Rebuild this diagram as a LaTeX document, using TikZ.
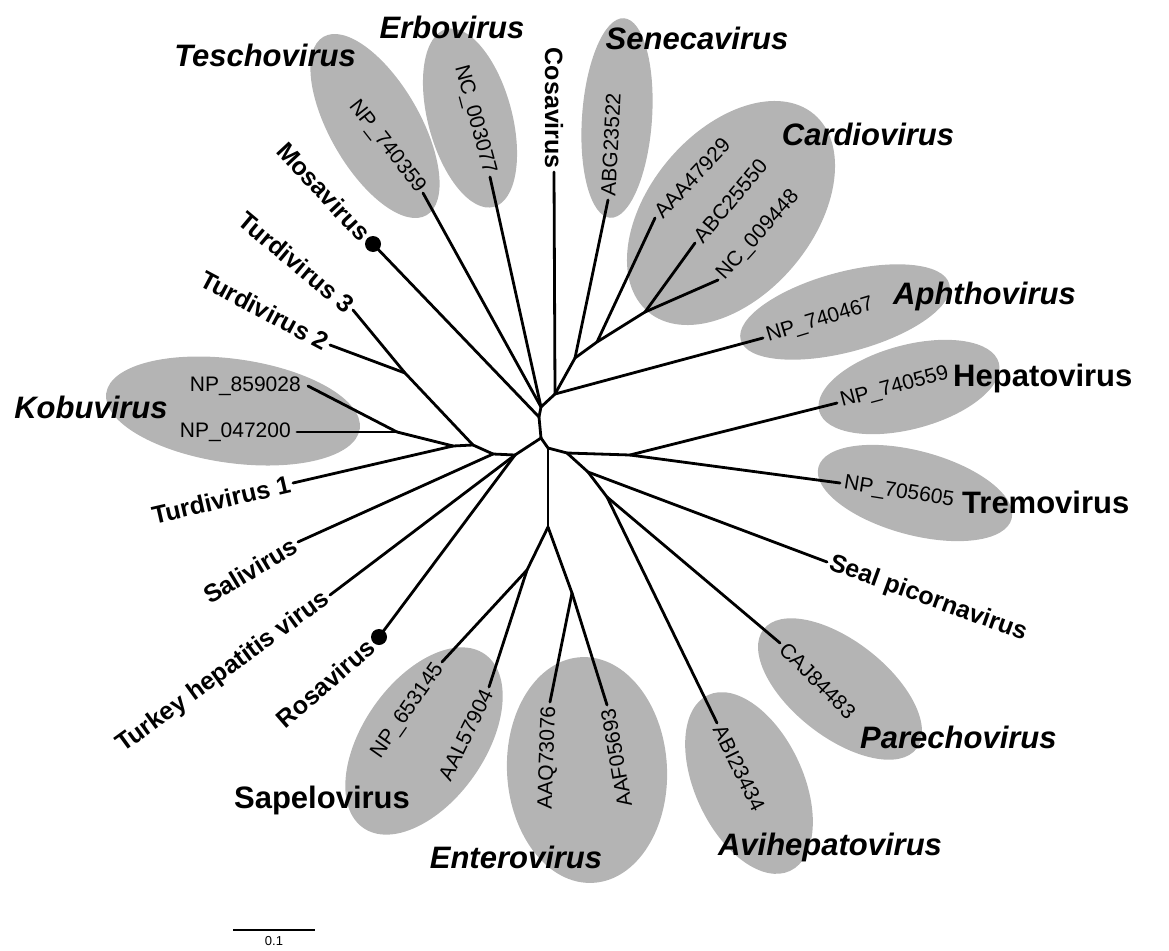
\documentclass[tikz,border=0pt]{standalone}
\usepackage{fontspec}
\setmainfont{Liberation Sans}
\definecolor{ellgray}{RGB}{180,180,180}
\tikzset{
  br/.style={line width=2.8pt, line cap=round, line join=round},
  ell/.style={fill=ellgray},
  acc/.style={font=\fontsize{21}{25}\selectfont, inner sep=4pt},
  leaf/.style={font=\fontsize{25}{30}\selectfont\bfseries, inner sep=3pt},
  genus/.style={font=\fontsize{31}{37}\selectfont\bfseries\itshape, inner sep=0pt},
  genusup/.style={font=\fontsize{31}{37}\selectfont\bfseries, inner sep=0pt},
  dot/.style={circle, fill=black, inner sep=0pt, minimum size=16pt}
}
\begin{document}
\begin{tikzpicture}[x=1pt,y=-1pt]
\useasboundingbox (0,0) rectangle (1169,950);
% ellipses
\fill[ell, rotate around={-60:(375,126)}] (375,126) ellipse [x radius=103, y radius=45];
\fill[ell, rotate around={-75:(470,118)}] (470,118) ellipse [x radius=92, y radius=42];
\fill[ell, rotate around={86:(617,118)}] (617,118) ellipse [x radius=100, y radius=35];
\fill[ell, rotate around={50:(731,213)}] (731,213) ellipse [x radius=129, y radius=82];
\fill[ell, rotate around={15:(845,312)}] (845,312) ellipse [x radius=108, y radius=40];
\fill[ell, rotate around={15:(909,387)}] (909,387) ellipse [x radius=93, y radius=42];
\fill[ell, rotate around={-15:(915,493)}] (915,493) ellipse [x radius=100, y radius=42];
\fill[ell, rotate around={-38:(840,689)}] (840,689) ellipse [x radius=97, y radius=48];
\fill[ell, rotate around={-65:(749,783)}] (749,783) ellipse [x radius=97, y radius=54];
\fill[ell, rotate around={93:(587,770)}] (587,770) ellipse [x radius=113, y radius=80];
\fill[ell, rotate around={55:(424,741)}] (424,741) ellipse [x radius=106, y radius=61];
\fill[ell, rotate around={-8:(233,411)}] (233,411) ellipse [x radius=128, y radius=52];
% internal nodes
\coordinate (A1) at (541,407);
\coordinate (A2) at (539,417);
\coordinate (B) at (555,394);
\coordinate (S1) at (575,358);
\coordinate (S2) at (597,342);
\coordinate (S3) at (645,312);
\coordinate (C) at (541,438);
\coordinate (D) at (515,455);
\coordinate (D2) at (493,454);
\coordinate (K2) at (473,445);
\coordinate (T) at (405,373);
\coordinate (K) at (453,446);
\coordinate (Kb) at (397,432);
\coordinate (F) at (548,448);
\coordinate (F2) at (567,453);
\coordinate (G) at (630,455);
\coordinate (H) at (588,472);
\coordinate (I) at (607,497);
\coordinate (E) at (548,527);
\coordinate (Sp) at (527,570);
\coordinate (En) at (572,593);
% tips
\coordinate (tesch) at (423,193);
\coordinate (erbo) at (490,177);
\coordinate (mosa) at (373,244);
\coordinate (cosa) at (554,172);
\coordinate (aphtho) at (763,338);
\coordinate (seneca) at (608,200);
\coordinate (aaa) at (655,218);
\coordinate (abc) at (695,243);
\coordinate (nc9) at (718,280);
\coordinate (td3) at (353,310);
\coordinate (td2) at (330,345);
\coordinate (np859) at (308,386);
\coordinate (np047) at (297,432);
\coordinate (td1) at (293,483);
\coordinate (sali) at (298,542);
\coordinate (turkey) at (330,595);
\coordinate (rosa) at (379,637);
\coordinate (np653) at (442,662);
\coordinate (aal) at (489,687);
\coordinate (aaq) at (550,702);
\coordinate (aaf) at (607,705);
\coordinate (abi) at (717,723);
\coordinate (caj) at (780,643);
\coordinate (seal) at (827,562);
\coordinate (np705) at (840,483);
\coordinate (np559) at (837,403);
% branches
\draw[br] (A2) -- (A1) -- (B);
\draw[br] (A1) -- (tesch);
\draw[br] (A1) -- (erbo);
\draw[br] (A2) -- (mosa);
\draw[br] (A2) -- (C);
\draw[br] (B) -- (cosa);
\draw[br] (B) -- (aphtho);
\draw[br] (B) -- (S1) -- (S2) -- (S3);
\draw[br] (S1) -- (seneca);
\draw[br] (S2) -- (aaa);
\draw[br] (S3) -- (abc);
\draw[br] (S3) -- (nc9);
\draw[br] (C) -- (D);
\draw[br] (C) -- (F);
\draw[br] (D) -- (turkey);
\draw[br] (D) -- (rosa);
\draw[br] (D) -- (D2);
\draw[br] (D2) -- (sali);
\draw[br] (D2) -- (K2);
\draw[br] (K2) -- (T);
\draw[br] (K2) -- (K);
\draw[br] (T) -- (td3);
\draw[br] (T) -- (td2);
\draw[br] (K) -- (td1);
\draw[br] (K) -- (Kb);
\draw[br] (Kb) -- (np859);
\draw[br] (Kb) -- (np047);
\draw[br] (F) -- (E);
\draw[br] (F) -- (F2);
\draw[br] (F2) -- (G);
\draw[br] (F2) -- (H);
\draw[br] (G) -- (np559);
\draw[br] (G) -- (np705);
\draw[br] (H) -- (seal);
\draw[br] (H) -- (I);
\draw[br] (I) -- (caj);
\draw[br] (I) -- (abi);
\draw[br] (E) -- (Sp);
\draw[br] (E) -- (En);
\draw[br] (Sp) -- (np653);
\draw[br] (Sp) -- (aal);
\draw[br] (En) -- (aaq);
\draw[br] (En) -- (aaf);
% dots
\node[dot] (mosadot) at (mosa) {};
\node[dot] (rosadot) at (rosa) {};
% leaf labels
\node[acc, anchor=east, rotate=-52, inner sep=3pt] (l-tesch) at (tesch) {NP\_740359};
\node[acc, anchor=east, rotate=-75, inner sep=3pt] (l-erbo) at (erbo) {NC\_003077};
\node[leaf, anchor=east, rotate=-90] (l-cosa) at (cosa) {Cosavirus};
\node[leaf, anchor=east, rotate=-47, inner sep=10pt] (l-mosa) at (mosa) {Mosavirus};
\node[leaf, anchor=east, rotate=-40] (l-td3) at (td3) {Turdivirus 3};
\node[leaf, anchor=east, rotate=-28] (l-td2) at (td2) {Turdivirus 2};
\node[acc, anchor=east, inner sep=7pt] (l-np859) at (np859) {NP\_859028};
\node[acc, anchor=east, inner sep=6pt] (l-np047) at (np047) {NP\_047200};
\node[leaf, anchor=east, rotate=13] (l-td1) at (td1) {Turdivirus 1};
\node[leaf, anchor=east, rotate=31] (l-sali) at (sali) {Salivirus};
\node[leaf, anchor=east, rotate=36] (l-turkey) at (turkey) {Turkey hepatitis virus};
\node[leaf, anchor=east, rotate=41, inner sep=10pt] (l-rosa) at (rosa) {Rosavirus};
\node[acc, anchor=east, rotate=55] (l-np653) at (np653) {NP\_653145};
\node[acc, anchor=east, rotate=64] (l-aal) at (aal) {AAL57904};
\node[acc, anchor=east, rotate=88] (l-aaq) at (aaq) {AAQ73076};
\node[acc, anchor=east, rotate=100] (l-aaf) at (aaf) {AAF05693};
\node[acc, anchor=west, rotate=-64] (l-abi) at (abi) {ABI23434};
\node[acc, anchor=west, rotate=-45] (l-caj) at (caj) {CAJ84483};
\node[leaf, anchor=west, rotate=-20] (l-seal) at (seal) {Seal picornavirus};
\node[acc, anchor=west, rotate=-9] (l-np705) at (np705) {NP\_705605};
\node[acc, anchor=west, rotate=15] (l-np559) at (np559) {NP\_740559};
\node[acc, anchor=west, rotate=17] (l-aphtho) at (aphtho) {NP\_740467};
\node[acc, anchor=west, rotate=48] (l-nc9) at (nc9) {NC\_009448};
\node[acc, anchor=west, rotate=50] (l-abc) at (abc) {ABC25550};
\node[acc, anchor=west, rotate=47] (l-aaa) at (aaa) {AAA47929};
\node[acc, anchor=west, rotate=87] (l-seneca) at (seneca) {ABG23522};
% genus labels
\node[genus] (g-tesch) at (265,55) {Teschovirus};
\node[genus] (g-erbo) at (452,27) {Erbovirus};
\node[genus] (g-seneca) at (697,38) {Senecavirus};
\node[genus] (g-cardio) at (868,134) {Cardiovirus};
\node[genus, anchor=west] (g-aphtho) at (893,296) {Aphthovirus};
\node[genusup, anchor=west] (g-hepato) at (953,378) {Hepatovirus};
\node[genusup, anchor=west] (g-tremo) at (962,502) {Tremovirus};
\node[genus, anchor=west] (g-parecho) at (860,737) {Parechovirus};
\node[genus] (g-avihep) at (830,847) {Avihepatovirus};
\node[genus] (g-entero) at (516,857) {Enterovirus};
\node[genusup] (g-sapelo) at (322,800) {Sapelovirus};
\node[genus] (g-kobu) at (91,407) {Kobuvirus};
% scale bar
\coordinate (sb1) at (233,930);
\coordinate (sb2) at (315,930);
\draw[line width=2.4pt] (sb1) -- (sb2);
\node[font=\fontsize{13}{15}\selectfont, inner sep=0pt, anchor=north] (sblabel) at (274,936) {0.1};
\end{tikzpicture}
\end{document}
